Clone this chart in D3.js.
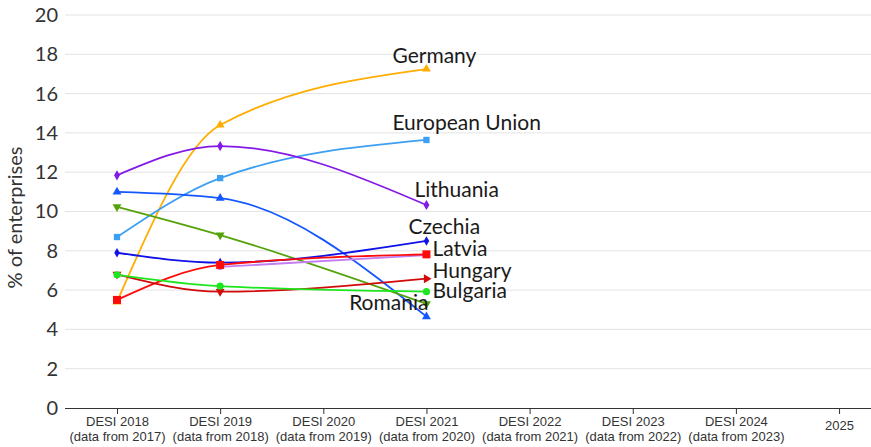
<!DOCTYPE html>
<html>
<head>
<meta charset="utf-8">
<script src="https://cdn.jsdelivr.net/npm/d3@7"></script>
<style>
  html, body { margin: 0; padding: 0; background: #fff; }
  svg { display: block; font-family: Lato, "Open Sans", sans-serif; }
</style>
</head>
<body>
<svg id="chart" width="871" height="447"></svg>
<script>
// Edition labels along the x axis (two lines each)
const categories = [
  ["DESI 2018", "(data from 2017)"],
  ["DESI 2019", "(data from 2018)"],
  ["DESI 2020", "(data from 2019)"],
  ["DESI 2021", "(data from 2020)"],
  ["DESI 2022", "(data from 2021)"],
  ["DESI 2023", "(data from 2022)"],
  ["DESI 2024", "(data from 2023)"],
  ["2025"]
];
const yTicks = [0, 2, 4, 6, 8, 10, 12, 14, 16, 18, 20];
const yTitle = "% of enterprises";

// Values per edition (null = no observation)
const germany       = [5.4, 14.4, null, 17.25];
const europeanUnion = [8.7, 11.7, null, 13.64];
const lithuania     = [11.84, 13.33, null, 10.33];
const seriesBlue    = [11.0, 10.68, null, 4.65];
const romania       = [10.24, 8.8, null, 5.3];
const czechia       = [7.9, 7.4, null, 8.5];
const seriesViolet  = [null, 7.18, null, 7.78];
const latvia        = [5.5, 7.28, null, 7.82];
const hungary       = [6.8, 5.92, null, 6.58];
const bulgaria      = [6.78, 6.2, null, 5.92];

const seriesNames = ["Germany", "European Union", "Lithuania", "", "Romania",
                     "Czechia", "", "Latvia", "Hungary", "Bulgaria"];
const seriesValues = [germany, europeanUnion, lithuania, seriesBlue, romania,
                      czechia, seriesViolet, latvia, hungary, bulgaria];

// Presentation: colour, marker and end-label placement for each series
const styles = [
  { color: "#ffad00", symbol: d3.symbolTriangle, size: 34, label: { anchor: "start", dx: -34, dy: -6 } },
  { color: "#3d9ff2", symbol: d3.symbolSquare,   size: 40, label: { anchor: "start", dx: -34, dy: -10 } },
  { color: "#8418e6", symbol: d3.symbolDiamond,  size: 30, label: { anchor: "start", dx: -12, dy: -8 } },
  { color: "#1557ff", symbol: d3.symbolTriangle, size: 34, label: null },
  { color: "#55a30a", symbol: d3.symbolTriangle, size: 34, rotate: 180, label: { anchor: "end", dx: 2, dy: 6 } },
  { color: "#1010e8", symbol: d3.symbolDiamond,  size: 26, label: { anchor: "start", dx: -18, dy: -7 } },
  { color: "#c47cf2", symbol: d3.symbolCircle,   size: 30, label: null },
  { color: "#ff0a0a", symbol: d3.symbolSquare,   size: 64, label: { anchor: "start", dx: 6, dy: 2 } },
  { color: "#d10a0a", symbol: d3.symbolTriangle, size: 34, rotate: 180, lastRotate: 90, label: { anchor: "start", dx: 6, dy: -1 } },
  { color: "#1ee61e", symbol: d3.symbolCircle,   size: 40, label: { anchor: "start", dx: 6, dy: 6.5 } }
];

const plot = { left: 65, right: 871, top: 15, bottom: 408 };

const svg = d3.select("#chart");

// category positions: first edition at 117 px, ~103 px apart
const step = 103.15;
const first = 117;
const x = d3.scalePoint()
  .domain(d3.range(categories.length))
  .range([first - step / 2, first + (categories.length - 1) * step + step / 2])
  .padding(0.5);

const y = d3.scaleLinear().domain([0, 20]).range([plot.bottom, plot.top]);

// horizontal grid
svg.append("g")
  .selectAll("line")
  .data(yTicks.filter(d => d !== 0))
  .join("line")
  .attr("x1", plot.left).attr("x2", plot.right)
  .attr("y1", d => y(d)).attr("y2", d => y(d))
  .attr("stroke", "#e3e3e3").attr("stroke-width", 1);

// y axis labels
const yAxis = svg.append("g")
  .attr("transform", `translate(${plot.left},0)`)
  .call(d3.axisLeft(y).tickValues(yTicks).tickSize(0).tickPadding(7));
yAxis.select(".domain").remove();
yAxis.selectAll("text")
  .attr("font-family", "Lato, sans-serif")
  .attr("font-size", 20)
  .attr("fill", "#333");

// y axis title
svg.append("text")
  .attr("transform", `translate(22,${(plot.top + plot.bottom) / 2 + 6}) rotate(-90)`)
  .attr("text-anchor", "middle")
  .attr("font-size", 20)
  .attr("fill", "#333")
  .text(yTitle);

// x axis
const xAxis = svg.append("g")
  .attr("transform", `translate(0,${plot.bottom})`)
  .call(d3.axisBottom(x).tickSize(6).tickFormat(""));
xAxis.select(".domain")
  .attr("d", `M${plot.left},0.5H${plot.right}`)
  .attr("stroke", "#333");
xAxis.selectAll(".tick line").attr("stroke", "#333");

xAxis.selectAll(".tick").each(function (i) {
  const lines = categories[i];
  const t = d3.select(this).append("text")
    .attr("text-anchor", "middle")
    .attr("font-size", 13)
    .attr("fill", "#333");
  lines.forEach((s, k) => {
    t.append("tspan")
      .attr("x", 0)
      .attr("y", lines.length === 1 ? 22 : 18 + k * 15)
      .text(s);
  });
});

// series
const line = d3.line()
  .defined(d => d.v != null)
  .x(d => x(d.i))
  .y(d => y(d.v))
  .curve(d3.curveMonotoneX);

const series = seriesValues.map((vals, k) => ({
  name: seriesNames[k],
  style: styles[k],
  points: vals.map((v, i) => ({ i, v })).filter(d => d.v != null)
}));

const g = svg.append("g");
series.forEach(s => {
  g.append("path")
    .attr("d", line(s.points))
    .attr("fill", "none")
    .attr("stroke", s.style.color)
    .attr("stroke-width", 1.8);
});
series.forEach(s => {
  const n = s.points.length;
  g.selectAll(null)
    .data(s.points)
    .join("path")
    .attr("d", d3.symbol().type(s.style.symbol).size(s.style.size))
    .attr("transform", (d, j) => {
      const r = (j === n - 1 && s.style.lastRotate != null) ? s.style.lastRotate : (s.style.rotate || 0);
      return `translate(${x(d.i)},${y(d.v)}) rotate(${r})`;
    })
    .attr("fill", s.style.color);
});

// end labels
series.forEach(s => {
  if (!s.name || !s.style.label) return;
  const last = s.points[s.points.length - 1];
  const L = s.style.label;
  svg.append("text")
    .attr("x", x(last.i) + L.dx)
    .attr("y", y(last.v) + L.dy)
    .attr("text-anchor", L.anchor)
    .attr("font-size", 21)
    .attr("fill", "#1a1a1a")
    .text(s.name);
});
</script>
</body>
</html>
